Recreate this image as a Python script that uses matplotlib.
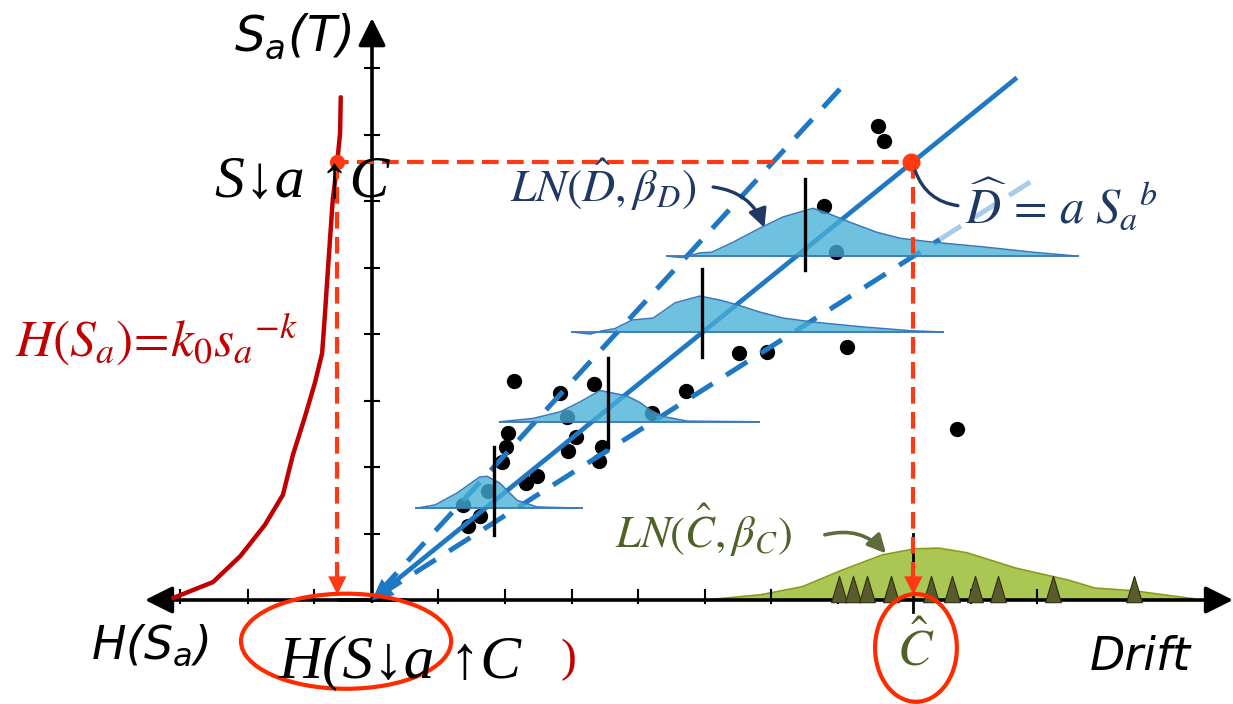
import numpy as np
import matplotlib
matplotlib.use('Agg')
import matplotlib.pyplot as plt
from matplotlib.patches import Ellipse
from matplotlib.path import Path

plt.rcParams['mathtext.fontset'] = 'custom'
plt.rcParams['mathtext.rm'] = 'DejaVu Sans:italic'
plt.rcParams['mathtext.it'] = 'DejaVu Sans:italic'

# ---------------- data ----------------
sa_ticks = [1, 2, 3, 4, 5, 6, 7, 8]
drift_ticks = [1, 2, 3, 4, 5, 6, 7, 9, 10]
hazard_ticks = [-0.87, -1.87, -2.88]

# hazard curve H(Sa), drawn leftwards from the Sa axis
hazard_h = [-2.99, -2.39, -1.98, -1.61, -1.34, -1.19, -1.01, -0.86, -0.75,
            -0.71, -0.66, -0.59, -0.53, -0.48, -0.47]
hazard_sa = [0.03, 0.27, 0.66, 1.13, 1.58, 2.18, 2.75, 3.26, 3.71,
             4.26, 5.01, 6.02, 6.51, 7.02, 7.56]

# demand samples (drift, Sa)
dem_drift = [7.61, 7.70, 6.80, 6.98, 5.52, 5.94, 7.14, 8.80, 4.72, 4.21,
             3.34, 2.83, 2.14, 2.93, 3.07, 2.95, 3.46, 3.41, 2.05, 2.02,
             1.95, 2.48, 2.32, 1.74, 1.37, 1.62, 1.44]
dem_sa = [7.13, 6.90, 5.92, 5.23, 3.71, 3.73, 3.80, 2.57, 3.14, 2.81,
          3.25, 3.11, 3.29, 2.75, 2.45, 2.24, 2.30, 2.09, 2.51, 2.30,
          2.08, 1.86, 1.76, 1.64, 1.43, 1.26, 1.11]

# fitted demand model (Sa per unit drift) and extents
median_slope = 0.81
upper_slope = 1.092
lower_slope = 0.635
median_end = 9.67
upper_end = 7.19
lower_end = 8.54
lower_faded_end = 10.05

# conditional demand distributions LN(D, beta_D)
dist_sa = [1.38, 2.68, 4.03, 5.17]
dist_median = [1.83, 3.55, 4.96, 6.51]
dist_bar_low = [0.98, 2.30, 3.65, 4.96]
dist_bar_high = [2.30, 3.64, 4.98, 6.33]
dist_drift = [
    [0.66, 0.95, 1.28, 1.62, 1.73, 1.92, 2.18, 2.48, 3.16],
    [1.92, 2.42, 2.83, 3.13, 3.43, 3.83, 4.03, 4.18, 4.38, 4.74, 5.82],
    [3.01, 3.28, 3.47, 3.65, 3.91, 4.23, 4.56, 4.93, 5.23, 5.49, 5.83,
     6.18, 6.63, 7.34, 8.09, 8.59],
    [4.44, 4.68, 4.93, 5.11, 5.43, 5.83, 6.18, 6.63, 6.84, 7.19, 7.59,
     7.94, 8.44, 9.19, 9.94, 10.62],
]
dist_dens = [
    [0, 0.05, 0.23, 0.47, 0.48, 0.38, 0.12, 0.02, 0],
    [0, 0.05, 0.15, 0.30, 0.47, 0.39, 0.29, 0.18, 0.08, 0.01, 0],
    [0, -0.03, 0.02, 0.05, 0.18, 0.21, 0.44, 0.54, 0.48, 0.41, 0.30,
     0.21, 0.15, 0.08, 0.02, 0],
    [0, -0.02, 0.05, 0.06, 0.21, 0.42, 0.59, 0.72, 0.65, 0.51, 0.36,
     0.27, 0.21, 0.14, 0.06, 0],
]

# capacity samples and distribution LN(C, beta_C)
cap_drift = [7.02, 7.24, 7.45, 7.80, 8.41, 8.72, 9.07, 9.41, 10.24, 11.46]
cap_hat = 8.14
cap_pdf_drift = [5.01, 5.85, 6.47, 7.07, 7.68, 8.17, 8.53, 8.95, 9.68,
                 10.47, 10.87, 11.44, 12.35]
cap_pdf = [0, 0.08, 0.20, 0.45, 0.68, 0.77, 0.78, 0.71, 0.48, 0.30,
           0.18, 0.14, 0.02]

# ---------------- figure ----------------
U = 66.5  # pixels per unit
fig = plt.figure(figsize=(12.33, 7.04), dpi=100)
ax = fig.add_axes([0, 0, 1, 1])
ax.set_xlim(-372 / U, (1233 - 372) / U)
ax.set_ylim(-(704 - 600) / U, 600 / U)
ax.axis('off')

RED = '#FF3A12'
DARKRED = '#C00000'
BLUE = '#1F78C4'
NAVY = '#1F3864'
OLIVE = '#4F6228'

# axes with arrows
ax.annotate('', xy=(0, 8.75), xytext=(0, -0.02),
            arrowprops=dict(arrowstyle='-|>,head_length=0.6,head_width=0.3',
                            lw=2.6, color='k', mutation_scale=28,
                            shrinkA=0, shrinkB=0), zorder=3)
ax.annotate('', xy=((1233 - 372) / U, 0), xytext=(-0.5, 0),
            arrowprops=dict(arrowstyle='-|>,head_length=0.6,head_width=0.3',
                            lw=2.6, color='k', mutation_scale=28,
                            shrinkA=0, shrinkB=0), zorder=3)
ax.annotate('', xy=(-(372 - 145) / U, 0), xytext=(0.5, 0),
            arrowprops=dict(arrowstyle='-|>,head_length=0.6,head_width=0.3',
                            lw=2.6, color='k', mutation_scale=28,
                            shrinkA=0, shrinkB=0), zorder=3)
for t in sa_ticks:
    ax.plot([-0.1, 0.1], [t, t], color='k', lw=1.5, zorder=3)
for t in drift_ticks + hazard_ticks:
    ax.plot([t, t], [-0.05, 0.15], color='k', lw=1.5, zorder=3)
ax.plot([cap_hat, cap_hat], [-0.18, 1.0], color='k', lw=2.0, zorder=3)

# capacity distribution
ax.fill_between(cap_pdf_drift, 0, cap_pdf, color='#A6C44A', alpha=0.95,
                lw=0, zorder=2)
ax.plot(cap_pdf_drift, cap_pdf, color='#8A9A18', lw=1.2, zorder=2)
tri = Path([(-0.3, -0.5), (0.3, -0.5), (0, 0.5), (-0.3, -0.5)])
ax.plot(cap_drift, [0.16] * len(cap_drift), ls='none', marker=tri, ms=19,
        mfc='#5A5B2C', mec='#2E2E14', mew=0.8, zorder=4)

# hazard curve
ax.plot(hazard_h, hazard_sa, color=DARKRED, lw=3.2, solid_capstyle='round',
        zorder=4)

# demand samples
ax.plot(dem_drift, dem_sa, ls='none', marker='o', ms=10, color='k', zorder=4)

# demand model lines
d = np.array([0.15, median_end])
ax.plot(d, median_slope * d, color=BLUE, lw=3.4, zorder=5)
d = np.array([0.12, upper_end])
ax.plot(d, upper_slope * d, color=BLUE, lw=3.6, dashes=(5, 3.2), zorder=5)
d = np.array([0.12, lower_end])
ax.plot(d, lower_slope * d, color=BLUE, lw=3.6, dashes=(5, 3.2), zorder=5)
d = np.array([lower_end, lower_faded_end])
ax.plot(d, lower_slope * d, color='#A9CCEB', lw=3.6, dashes=(5, 3.2),
        zorder=5)
ax.annotate('', xy=(0, 0), xytext=(0.5, 0.5 * median_slope),
            arrowprops=dict(arrowstyle='-|>,head_length=0.5,head_width=0.25',
                            lw=0, color=BLUE, mutation_scale=30,
                            shrinkA=0, shrinkB=0), zorder=5)

# conditional demand distributions
for sa, med, lo, hi, dd, pp in zip(dist_sa, dist_median, dist_bar_low,
                                   dist_bar_high, dist_drift, dist_dens):
    dd = np.array(dd)
    pp = np.array(pp)
    ax.fill_between(dd, sa, sa + pp, color='#46B0D8', alpha=0.78, lw=0,
                    zorder=6)
    ax.plot(dd, sa + pp, color='#3A78BA', lw=1.1, zorder=6)
    ax.plot([dd[0], dd[-1]], [sa, sa], color='#3A78BA', lw=1.3, zorder=6)
    ax.plot([med, med], [lo, hi], color='k', lw=2.4, zorder=7)

# intensity at capacity and hazard at that intensity
sa_c = median_slope * cap_hat
h_c = np.interp(sa_c, hazard_sa, hazard_h)
ax.plot([h_c - 0.08, cap_hat], [sa_c, sa_c], color=RED, lw=3.0,
        dashes=(4, 2), zorder=8)
ax.plot([h_c, h_c], [sa_c, 0.25], color=RED, lw=3.0, dashes=(4, 2), zorder=8)
ax.plot([cap_hat, cap_hat], [sa_c, 0.25], color=RED, lw=3.0, dashes=(4, 2),
        zorder=8)
for xx in [h_c, cap_hat]:
    ax.annotate('', xy=(xx, 0.08), xytext=(xx, 0.4),
                arrowprops=dict(arrowstyle='-|>,head_length=0.6,head_width=0.3',
                                lw=0, color=RED, mutation_scale=22,
                                shrinkA=0, shrinkB=0), zorder=8)
ax.plot([h_c], [sa_c], marker='o', ms=10, color=RED, zorder=9)
ax.plot([cap_hat - 0.04], [sa_c], marker='o', ms=12, color=RED, zorder=9)

# ellipses
ax.add_patch(Ellipse((-0.39, -0.62), 3.16, 1.43, fill=False, ec='#FF2A00',
                     lw=3.0, zorder=9))
ax.add_patch(Ellipse((8.18, -0.72), 1.23, 1.62, fill=False, ec='#FF2A00',
                     lw=3.0, zorder=9))

# annotation curves
ax.annotate('', xy=(5.90, 5.60), xytext=(5.13, 6.21),
            arrowprops=dict(arrowstyle='-|>,head_length=0.5,head_width=0.25',
                            connectionstyle='arc3,rad=-0.3', lw=2.4,
                            color=NAVY, mutation_scale=22, shrinkA=0,
                            shrinkB=0), zorder=9)
ax.annotate('', xy=(8.81, 5.93), xytext=(8.17, 6.45),
            arrowprops=dict(arrowstyle='-', connectionstyle='arc3,rad=0.3',
                            lw=2.4, color=NAVY, shrinkA=0, shrinkB=0),
            zorder=9)
ax.annotate('', xy=(7.73, 0.70), xytext=(6.81, 0.98),
            arrowprops=dict(arrowstyle='-|>,head_length=0.5,head_width=0.25',
                            connectionstyle='arc3,rad=-0.3', lw=2.6,
                            color='#5E6B3A', mutation_scale=22, shrinkA=0,
                            shrinkB=0), zorder=9)

# ---------------- texts ----------------
ax.text(-0.30, 8.47, r'$S_a(T)$', fontsize=35, ha='right', va='center',
        zorder=10)
ax.text(-4.22, -0.68, r'$H(S_a)$', fontsize=33, ha='left', va='center',
        zorder=10)
ax.text(10.80, -0.87, 'Drift', fontsize=33, ha='left', va='center',
        family='DejaVu Sans', style='italic', zorder=10)

serif = ['Liberation Serif', 'DejaVu Serif']
ax.text(-2.36, 6.06, 'S↓a ↑C', fontsize=43, family=serif, style='italic',
        ha='left', va='baseline', zorder=10)
ax.text(-1.40, -1.17, 'H(S↓a ↑C', fontsize=44, family=serif,
        style='italic', ha='left', va='baseline', zorder=10)
ax.text(2.84, -0.90, ')', fontsize=34, family=serif, color=DARKRED,
        ha='left', va='center', zorder=10)

ax.text(-5.37, 3.91, r'$H(S_a)\!=\!k_0s_a{}^{-k}$', fontsize=37,
        math_fontfamily='stix', color=DARKRED, ha='left', va='center',
        zorder=10)
ax.text(2.08, 6.24, r'$LN(\hat{D},\beta_D)$', fontsize=33,
        math_fontfamily='stix', color=NAVY, ha='left', va='center',
        zorder=10)
ax.text(8.92, 5.94, r'$\widehat{D}\,=\,a\ S_a{}^{b}$', fontsize=35,
        math_fontfamily='stix', color=NAVY, ha='left', va='center',
        zorder=10)
ax.text(3.65, 1.05, r'$LN(\hat{C},\beta_C)$', fontsize=32,
        math_fontfamily='stix', color=OLIVE, ha='left', va='center',
        zorder=10)
ax.text(8.18, -0.75, r'$\hat{C}$', fontsize=37, math_fontfamily='stix',
        color=OLIVE, ha='center', va='center', zorder=10)

fig.savefig('out.png', dpi=100)
